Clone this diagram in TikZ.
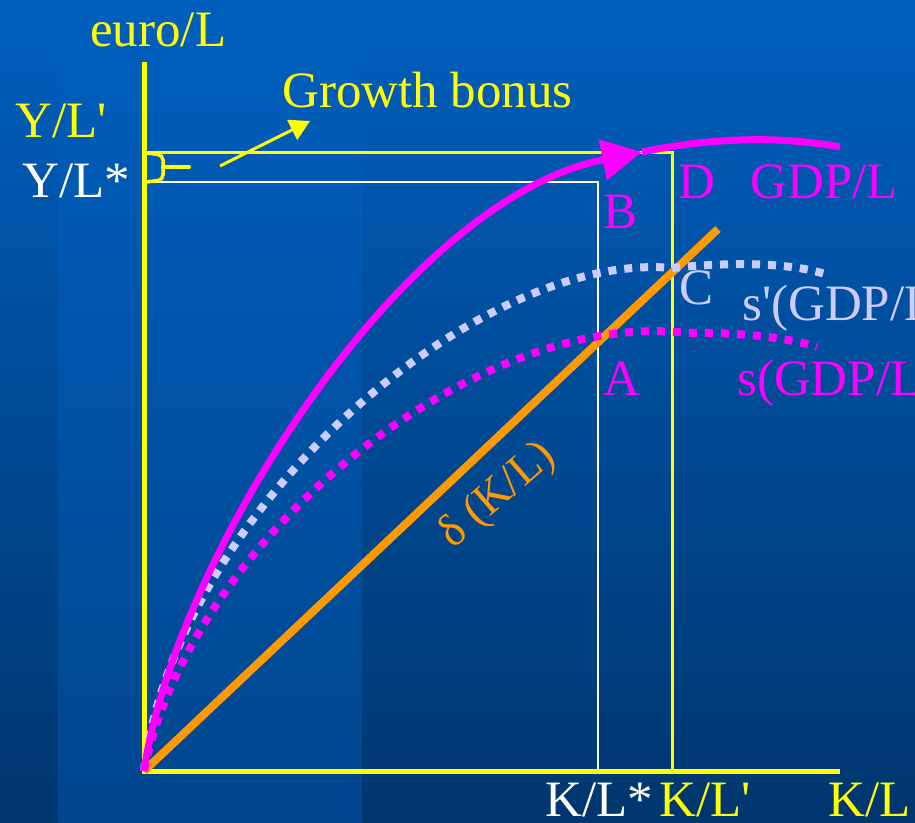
\documentclass[tikz,border=0pt]{standalone}
\usepackage{fontspec}
\setmainfont{Liberation Serif}
\usetikzlibrary{arrows.meta,positioning}

\definecolor{slideTop}{RGB}{0,95,190}
\definecolor{slideBot}{RGB}{0,54,110}
\definecolor{bandBot}{RGB}{0,70,142}
\definecolor{axisYellow}{RGB}{255,255,0}
\definecolor{gdpMagenta}{RGB}{255,0,255}
\definecolor{lavender}{RGB}{204,204,255}
\definecolor{deprOrange}{RGB}{255,153,0}

\begin{document}
\begin{tikzpicture}[x=1pt, y=-1pt,
    lbl/.style={inner sep=0pt, font=\fontsize{51}{60}\selectfont},
    axis/.style={axisYellow, line width=5pt},
    dots/.style={line width=8pt, dash pattern=on 8pt off 8pt},
    gdp/.style={gdpMagenta, line width=7pt}
]

% Background slide
\useasboundingbox (0,0) rectangle (915,822);
\shade[top color=slideTop, bottom color=slideBot] (0,0) rectangle (915,822);
\shade[top color=slideTop, bottom color=bandBot] (58,0) rectangle (362,822);

\begin{scope}
\clip (0,0) rectangle (915,822);

\coordinate (O) at (144,771);
\coordinate (yTop) at (144,62);
\coordinate (xEnd) at (840,771);
\coordinate (Dpt) at (672,152);
\coordinate (Bpt) at (598,182);

% Steady state guides
\draw[white, line width=2.5pt] (O |- Bpt) -- (Bpt) -- (Bpt |- O);
\draw[axisYellow, line width=3pt] (O |- Dpt) -- (Dpt) -- (Dpt |- O);

% Axes
\draw[axis] (yTop) -- (O) -- (xEnd);

% Growth bonus bracket
\draw[axisYellow, line width=3.5pt, rounded corners=5pt] (146,153) -- (163,155) -- (163,180) -- (146,182);
\draw[axisYellow, line width=4pt, line cap=round] (163,167) -- (189,167);

% Depreciation line
\coordinate (deprEnd) at (718,229);
\draw[deprOrange, line width=8pt] (O) -- (deprEnd);

% Savings curves
\coordinate (Cpt) at (672,268);
\coordinate (Apk) at (687,333);
\draw[lavender, dots] (O) .. controls (175,510) and (480,250) .. (Cpt)
  .. controls (730,262) and (790,262) .. (828,275);
\draw[gdpMagenta, dots] (O) .. controls (190,540) and (475,308) .. (Apk)
  .. controls (740,332) and (790,338) .. (817,347);

% Production curve
\coordinate (gdpTip) at (642,152);
\draw[gdp, -{Triangle[length=40pt,width=40pt]}] (O) .. controls (175,560) and (400,200) .. (gdpTip);
\draw[gdp] (gdpTip) .. controls (700,140) and (770,134) .. (840,147);

% Labels
\node[lbl, text=axisYellow, anchor=base west] (euro) at (90,46) {euro/L};
\node[lbl, text=axisYellow, anchor=base west] (ylp) at (15,137) {Y/L\textquotesingle};
\node[lbl, text=white, anchor=base west] (yls) at (22,197) {Y/L*};
\node[lbl, text=axisYellow, anchor=base west] (bonus) at (282,107) {Growth bonus};
\coordinate (bonusTail) at (220,166);
\coordinate (bonusTip) at (310,121);
\draw[axisYellow, line width=3pt, -{Triangle[length=20pt,width=22pt]}] (bonusTail) -- (bonusTip);

\node[lbl, text=gdpMagenta, anchor=base west] (D) at (678,198) {D};
\node[lbl, text=gdpMagenta, base right=35pt of D] (gdpL) {GDP/L};
\node[lbl, text=gdpMagenta, anchor=base west] (B) at (603,228) {B};
\node[lbl, text=lavender, anchor=base west] (C) at (679,304) {C};
\node[lbl, text=lavender, anchor=base west] (sNew) at (742,320) {s\textquotesingle(GDP/L)};
\node[lbl, text=gdpMagenta, anchor=base west] (A) at (603,395) {A};
\node[lbl, text=gdpMagenta, anchor=base west] (sOld) at (737,395) {s(GDP/L)};
\node[lbl, text=deprOrange, font=\fontsize{46}{54}\selectfont, rotate=41] (depr) at (498,496) {δ (K/L)};

\node[lbl, text=white, anchor=base west] (kls) at (545,816) {K/L*};
\node[lbl, text=axisYellow, base right=6pt of kls] (klp) {K/L\textquotesingle};
\node[lbl, text=axisYellow, anchor=base west] (kl) at (828,816) {K/L};
\end{scope}

\end{tikzpicture}
\end{document}
